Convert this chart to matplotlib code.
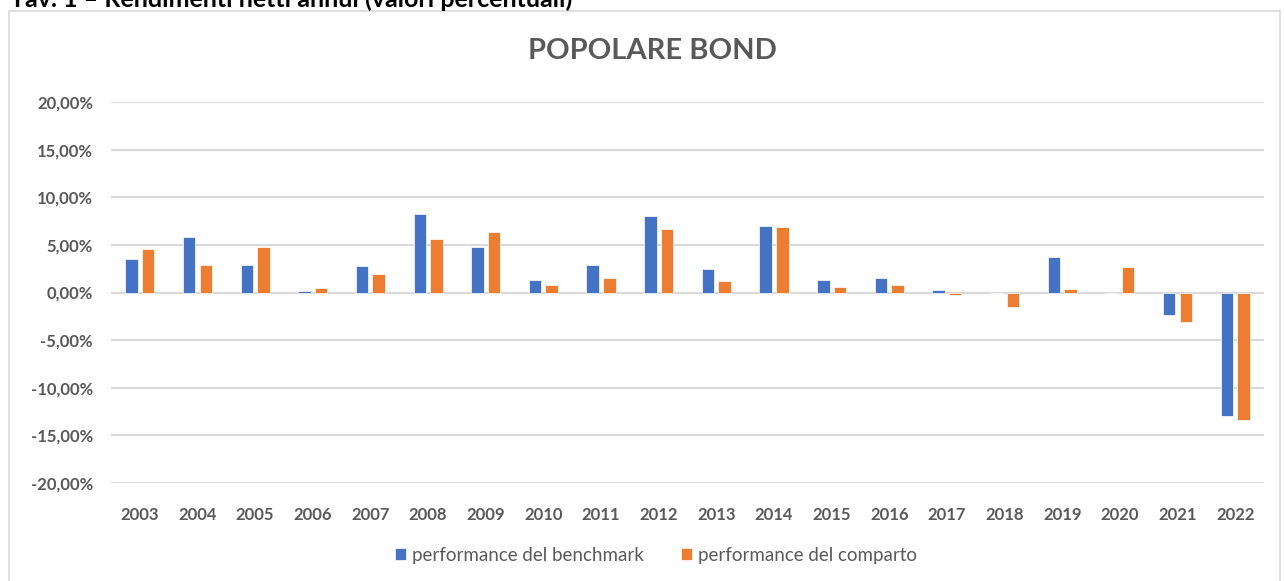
import numpy as np
import matplotlib
matplotlib.use('Agg')
import matplotlib.pyplot as plt
from matplotlib.patches import Rectangle
from matplotlib.ticker import FuncFormatter

years = [str(y) for y in range(2003, 2023)]
benchmark = [3.56, 5.85, 2.92, 0.18, 2.78, 8.27, 4.82, 1.30, 2.92, 7.98,
             2.43, 7.00, 1.30, 1.55, 0.21, 0.0, 3.70, 0.0, -2.40, -12.93]
comparto = [4.58, 2.92, 4.82, 0.42, 1.94, 5.60, 6.37, 0.77, 1.55, 6.62,
            1.20, 6.86, 0.53, 0.77, -0.22, -1.50, 0.39, 2.67, -3.13, -13.42]
labels = ['performance del benchmark', 'performance del comparto']

BLUE = '#4472C4'
ORANGE = '#ED7D31'
GREY = '#595959'
GRID = '#d9d9d9'

plt.rcParams['font.family'] = ['Lato', 'DejaVu Sans']

W, H = 1284, 581
fig = plt.figure(figsize=(W / 100, H / 100), dpi=100)

# outer chart frame (bottom is cut off in the source)
fig.patches.append(Rectangle((9 / W, -0.05), 1271 / W, 1.05 - 11 / H,
                             transform=fig.transFigure, fill=False,
                             edgecolor=GRID, linewidth=1.2))

# page heading, cropped at the top edge like in the source screenshot
fig.text(10 / W, 1 - 7 / H, 'Tav. 1 \u2013 Rendimenti netti annui (valori percentuali)',
         fontsize=18, fontweight='bold', color='black', va='baseline', ha='left')

ax = fig.add_axes([111 / W, 1 - 483 / H, 1153 / W, 381 / H])

x = np.arange(len(years))
w = 0.217
off = 0.144
ax.bar(x - off, benchmark, w, color=BLUE, edgecolor='white', linewidth=0.5,
       label=labels[0], zorder=3)
ax.bar(x + off, comparto, w, color=ORANGE, edgecolor='white', linewidth=0.5,
       label=labels[1], zorder=3)

ax.set_xlim(-0.5, len(years) - 0.5)
ax.set_ylim(-20, 20)
ax.set_yticks(np.arange(-20, 21, 5))
ax.yaxis.set_major_formatter(FuncFormatter(lambda v, p: ('%.2f%%' % v).replace('.', ',')))
ax.set_xticks(x)
ax.set_xticklabels(years)
ax.grid(axis='y', color=GRID, linewidth=1.5, zorder=0)
ax.axhline(0, color=GRID, linewidth=1.5, zorder=1)
for s in ax.spines.values():
    s.set_visible(False)
ax.tick_params(axis='both', length=0, labelsize=12, labelcolor=GREY)
ax.tick_params(axis='y', pad=13)
ax.tick_params(axis='x', pad=17)
for t in ax.get_xticklabels() + ax.get_yticklabels():
    t.set_fontweight('bold')

fig.text(652 / W, 1 - 51 / H, 'POPOLARE BOND', fontsize=21,
         fontweight='bold', color=GREY, ha='center', va='center')

leg = fig.legend(loc='center', bbox_to_anchor=(656 / W, 1 - 555 / H),
                 ncol=2, frameon=False, fontsize=13.5, handlelength=0.6,
                 handleheight=0.6, handletextpad=0.3, columnspacing=2.0)
for t in leg.get_texts():
    t.set_color(GREY)

fig.savefig('out.png', dpi=100)
